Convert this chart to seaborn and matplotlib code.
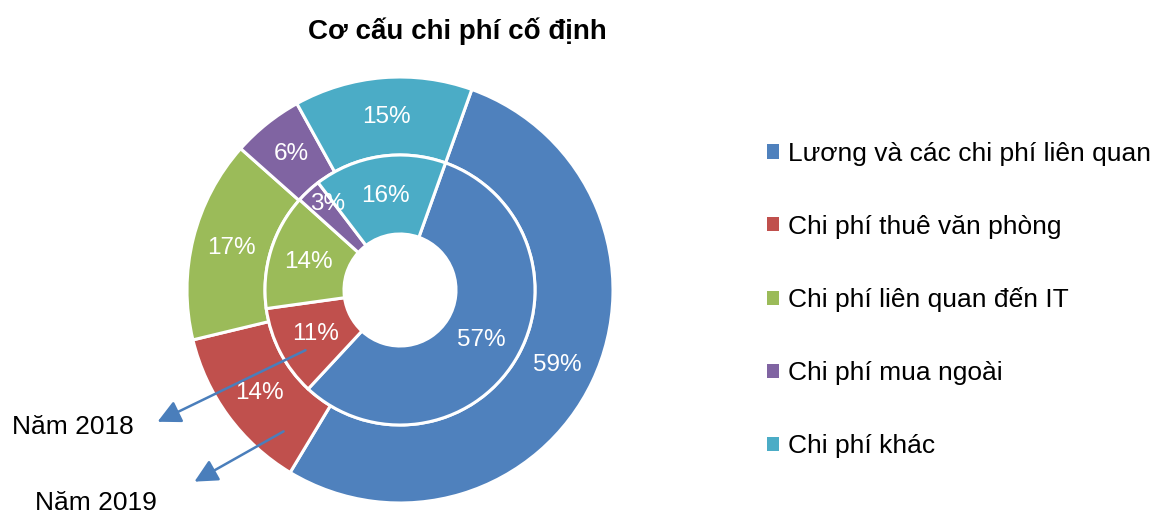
import matplotlib
matplotlib.use("Agg")
import matplotlib.pyplot as plt
import seaborn as sns
from matplotlib.patches import Patch

sns.set_theme(style="white")
plt.rcParams['font.family'] = ['Liberation Sans', 'DejaVu Sans']
plt.rcParams['text.color'] = 'black'

categories = ["Lương và các chi phí liên quan", "Chi phí thuê văn phòng",
              "Chi phí liên quan đến IT", "Chi phí mua ngoài", "Chi phí khác"]
values_2018 = [57, 11, 14, 3, 16]   # inner ring
values_2019 = [59, 14, 17, 6, 15]   # outer ring
ring_labels = ["Năm 2018", "Năm 2019"]
title = "Cơ cấu chi phí cố định"

colors = sns.color_palette(["#4F81BD", "#C0504D", "#9BBB59", "#8064A2", "#4BACC6"])

W, H = 1150, 514
fig = plt.figure(figsize=(W / 100, H / 100), dpi=100)
cx, cy, R = 400, 290, 213
ax = fig.add_axes([(cx - R) / W, (H - cy - R) / H, 2 * R / W, 2 * R / H])

r_mid = 135 / R
r_hole = 56 / R
start = 70.3
edge = dict(edgecolor="white", linewidth=2.2)
txt = dict(color="white", fontsize=17.5)

def pct_fmt(vals):
    tot = sum(vals)
    return lambda p: f"{p * tot / 100:.0f}%"

w_out, t_out, a_out = ax.pie(values_2019, radius=1.0, colors=colors, startangle=start,
                             counterclock=False, wedgeprops=dict(width=1.0 - r_mid, **edge),
                             autopct=pct_fmt(values_2019), pctdistance=(1.0 + r_mid) / 2,
                             textprops=txt)
w_in, t_in, a_in = ax.pie(values_2018, radius=r_mid, colors=colors, startangle=start,
                          counterclock=False, wedgeprops=dict(width=r_mid - r_hole, **edge),
                          autopct=pct_fmt(values_2018),
                          pctdistance=((r_mid + r_hole) / 2) / r_mid,
                          textprops=txt)
# small slice label pushed outward like the original
x3, y3 = a_in[3].get_position()
a_in[3].set_position((x3 * 1.12, y3 * 1.22))

ax.set_xlim(-1, 1)
ax.set_ylim(-1, 1)
ax.set_aspect("equal")
ax.axis("off")

def d(px, py):
    return ((px - cx) / R, (cy - py) / R)

arrow = dict(arrowstyle="-|>,head_length=0.7,head_width=0.35", color="#4A7EBB", lw=1.8,
             mutation_scale=20)
ax.annotate("", xy=d(155, 423), xytext=d(308, 349), arrowprops=arrow, annotation_clip=False)
ax.annotate("", xy=d(192, 483), xytext=d(286, 430), arrowprops=arrow, annotation_clip=False)
fig.text(12 / W, 1 - 427 / H, ring_labels[0], fontsize=19, ha="left", va="center", color="black")
fig.text(35 / W, 1 - 503 / H, ring_labels[1], fontsize=19, ha="left", va="center", color="black")

fig.text(457 / W, 1 - 31 / H, title, fontsize=20, fontweight="bold", ha="center", va="center")

handles = [Patch(facecolor=c, edgecolor="none") for c in colors]
leg = fig.legend(handles, categories, loc="center left", bbox_to_anchor=(767 / W, 1 - 300 / H),
                 frameon=False, fontsize=19, handlelength=0.45, handleheight=0.45,
                 handletextpad=0.33, labelspacing=1.85, borderaxespad=0, borderpad=0)

fig.savefig("out.png", dpi=100, facecolor="white")
